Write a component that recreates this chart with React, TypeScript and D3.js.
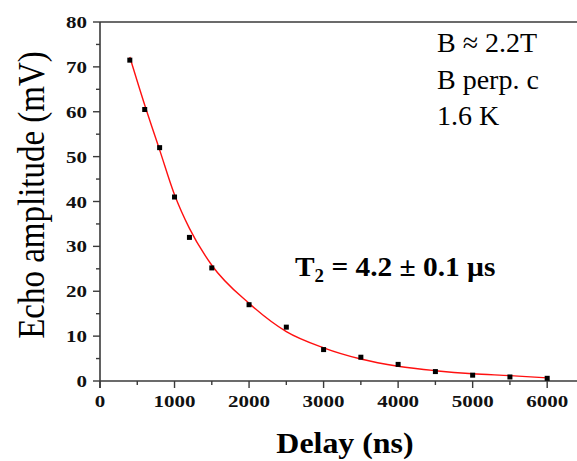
import React from "react";
import * as d3 from "d3";

const delays = [400, 600, 800, 1000, 1200, 1500, 2000, 2500, 3000, 3500, 4000, 4500, 5000, 5500, 6000];
const amplitudes = [71.5, 60.5, 52, 41, 32, 25.2, 17, 12, 7, 5.3, 3.7, 2.1, 1.3, 0.9, 0.6];
const fitDelays = [400, 600, 800, 1000, 1200, 1500, 2000, 2500, 3000, 3500, 4000, 4500, 5000, 5500, 6000];
const fitAmplitudes = [72.2, 61.5, 51.5, 41.5, 34, 25.8, 17.3, 11, 7.4, 4.9, 3.3, 2.3, 1.6, 1.2, 0.7];
const xTicks = [0, 1000, 2000, 3000, 4000, 5000, 6000];
const xMinorTicks = [500, 1500, 2500, 3500, 4500, 5500];
const yTicks = [0, 10, 20, 30, 40, 50, 60, 70, 80];
const yMinorTicks = [5, 15, 25, 35, 45, 55, 65, 75];
const infoLines = ["B \u2248 2.2T", "B perp. c", "1.6 K"];

const W = 577;
const H = 461;
const SERIF = "Liberation Serif";
const AXIS = "#3a3a3a";

export default function App() {
  const x = d3.scaleLinear().domain([0, 6400]).range([100, 577]);
  const y = d3.scaleLinear().domain([0, 80]).range([381, 22]);
  const fitPts = fitDelays.map((d, i) => [d, fitAmplitudes[i]] as [number, number]);
  const line = d3
    .line<[number, number]>()
    .x((d) => x(d[0]))
    .y((d) => y(d[1]))
    .curve(d3.curveMonotoneX);

  return (
    <svg
      width={W}
      height={H}
      style={{ position: "absolute", left: 0, top: 0, background: "#fff" }}
    >
      <rect x={0} y={0} width={W} height={H} fill="#fff" />
      {/* axes */}
      <line x1={x(0)} x2={W} y1={y(80)} y2={y(80)} stroke={AXIS} strokeWidth={1.6} />
      <line x1={x(0)} x2={W} y1={y(0)} y2={y(0)} stroke={AXIS} strokeWidth={1.6} />
      <line x1={x(0)} x2={x(0)} y1={y(80)} y2={y(0) + 7} stroke={AXIS} strokeWidth={1.6} />
      {yTicks.map((t) => (
        <line key={"yt" + t} x1={x(0) - 7} x2={x(0)} y1={y(t)} y2={y(t)} stroke={AXIS} strokeWidth={1.4} />
      ))}
      {yMinorTicks.map((t) => (
        <line key={"ym" + t} x1={x(0) - 4} x2={x(0)} y1={y(t)} y2={y(t)} stroke={AXIS} strokeWidth={1.4} />
      ))}
      {xTicks.map((t) => (
        <line key={"xt" + t} x1={x(t)} x2={x(t)} y1={y(0)} y2={y(0) + 7} stroke={AXIS} strokeWidth={1.4} />
      ))}
      {xMinorTicks.map((t) => (
        <line key={"xm" + t} x1={x(t)} x2={x(t)} y1={y(0)} y2={y(0) + 4} stroke={AXIS} strokeWidth={1.4} />
      ))}
      {yTicks.map((t) => (
        <text
          key={"yl" + t}
          transform={`translate(87,${y(t) + 6}) scale(1.2,1)`}
          textAnchor="end"
          fontFamily={SERIF}
          fontWeight="bold"
          fontSize={17.5}
          fill="#111"
        >
          {t}
        </text>
      ))}
      {xTicks.map((t) => (
        <text
          key={"xl" + t}
          transform={`translate(${x(t)},407) scale(1.2,1)`}
          textAnchor="middle"
          fontFamily={SERIF}
          fontWeight="bold"
          fontSize={17.5}
          fill="#111"
        >
          {t}
        </text>
      ))}
      {/* fit curve */}
      <path d={line(fitPts) || ""} fill="none" stroke="#ff1010" strokeWidth={1.4} />
      {/* data points */}
      {delays.map((d, i) => (
        <rect
          key={"p" + i}
          x={x(d) - 2.5}
          y={y(amplitudes[i]) - 2.5}
          width={5}
          height={5}
          fill="#000"
        />
      ))}
      {/* axis titles */}
      <text
        transform="translate(44,195) scale(1.18,1) rotate(-90)"
        textAnchor="middle"
        fontFamily={SERIF}
        fontSize={33}
        fill="#000"
      >
        Echo amplitude (mV)
      </text>
      <text
        transform="translate(345,453) scale(1.1,1)"
        textAnchor="middle"
        fontFamily={SERIF}
        fontWeight="bold"
        fontSize={29}
        fill="#000"
      >
        Delay (ns)
      </text>
      {/* annotations */}
      {infoLines.map((s, i) => (
        <text
          key={"info" + i}
          x={437}
          y={52 + i * 36.5}
          fontFamily={SERIF}
          fontSize={28}
          fill="#000"
        >
          {s}
        </text>
      ))}
      <text
        transform="translate(295,276) scale(1.05,1)"
        fontFamily={SERIF}
        fontWeight="bold"
        fontSize={28}
        fill="#000"
      >
        T<tspan dy={6} fontSize={18}>2</tspan>
        <tspan dy={-6}> = 4.2 ± 0.1 µs</tspan>
      </text>
    </svg>
  );
}
